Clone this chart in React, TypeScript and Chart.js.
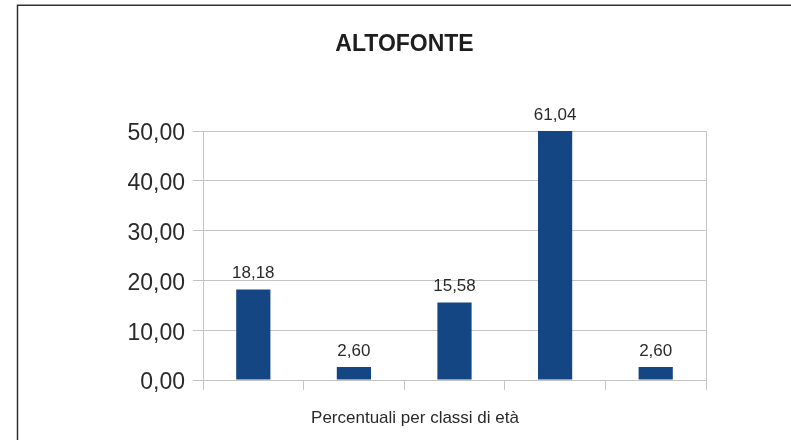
import React, { useEffect, useRef } from "react";
import { Chart, registerables } from "chart.js";

Chart.register(...registerables);

const chartTitle = "ALTOFONTE";
const xAxisTitle = "Percentuali per classi di età";
const categories = ["Classe 1", "Classe 2", "Classe 3", "Classe 4", "Classe 5"];
const percentuali = [18.18, 2.6, 15.58, 61.04, 2.6];
const yMin = 0;
const yMax = 50;
const yStep = 10;

const FONT = "'Liberation Sans', Arial, sans-serif";
const BAR_COLOR = "#134683";
const GRID_COLOR = "#c4c4c4";
const TEXT_COLOR = "#2a2a2a";

const fmt = (v: number) => v.toFixed(2).replace(".", ",");

const framePlugin = {
  id: "frame",
  beforeDraw(chart: any) {
    const ctx = chart.ctx;
    ctx.save();
    ctx.fillStyle = "#ffffff";
    ctx.fillRect(0, 0, chart.width, chart.height);
    ctx.strokeStyle = "#303030";
    ctx.lineWidth = 1.5;
    ctx.beginPath();
    ctx.moveTo(17.5, chart.height + 5);
    ctx.lineTo(17.5, 5.25);
    ctx.lineTo(chart.width + 5, 5.25);
    ctx.stroke();
    ctx.restore();
  },
};

const valueLabelPlugin = {
  id: "valueLabels",
  afterDatasetsDraw(chart: any) {
    const ctx = chart.ctx;
    const area = chart.chartArea;
    const meta = chart.getDatasetMeta(0);
    const data = chart.data.datasets[0].data as number[];
    ctx.save();
    ctx.font = `17px ${FONT}`;
    ctx.fillStyle = TEXT_COLOR;
    ctx.textAlign = "center";
    ctx.textBaseline = "alphabetic";
    meta.data.forEach((el: any, i: number) => {
      const top = Math.max(el.y, area.top);
      ctx.fillText(fmt(data[i]), el.x, top - 11.5);
    });
    ctx.restore();
  },
};

const axisTitlePlugin = {
  id: "xAxisTitle",
  afterDraw(chart: any) {
    const ctx = chart.ctx;
    const area = chart.chartArea;
    ctx.save();
    ctx.font = `17px ${FONT}`;
    ctx.fillStyle = TEXT_COLOR;
    ctx.textAlign = "center";
    ctx.textBaseline = "middle";
    ctx.fillText(xAxisTitle, area.left + (area.right - area.left) * 0.4215, area.bottom + 38);
    ctx.restore();
  },
};

export default function App() {
  const ref = useRef<HTMLCanvasElement | null>(null);

  useEffect(() => {
    if (!ref.current) return;
    const chart = new Chart(ref.current, {
      type: "bar",
      data: {
        labels: categories,
        datasets: [
          {
            data: percentuali,
            backgroundColor: BAR_COLOR,
            borderWidth: 0,
            barPercentage: 0.34,
            categoryPercentage: 1,
            yAxisID: "y",
          },
        ],
      },
      options: {
        animation: false,
        responsive: false,
        layout: { padding: { top: 0, left: 18, right: 0, bottom: 50 } },
        plugins: {
          legend: { display: false },
          tooltip: { enabled: false },
          title: {
            display: true,
            text: chartTitle,
            color: "#1e1e1e",
            font: { family: FONT, size: 23, weight: "bold", lineHeight: 1.2 },
            padding: { top: 31, bottom: 72.4 },
          },
        },
        scales: {
          x: {
            offset: true,
            grid: {
              offset: true,
              display: true,
              drawOnChartArea: true,
              drawTicks: true,
              tickLength: 10,
              color: (c: any) =>
                c.index === 0 || c.index === undefined ? GRID_COLOR : "rgba(0,0,0,0)",
              tickColor: GRID_COLOR,
              lineWidth: 1,
            },
            border: { display: false },
            ticks: { display: false },
          },
          y: {
            min: yMin,
            max: yMax,
            afterFit(scale: any) {
              scale.width = 185;
            },
            ticks: {
              stepSize: yStep,
              padding: 8,
              labelOffset: 3,
              color: TEXT_COLOR,
              font: { family: FONT, size: 23 },
              callback: (v: any) => fmt(Number(v)),
            },
            grid: {
              color: GRID_COLOR,
              tickLength: 10,
              tickColor: GRID_COLOR,
              lineWidth: 1,
            },
            border: { display: true, color: GRID_COLOR, width: 1 },
          },
          yRight: {
            position: "right",
            display: true,
            afterFit(scale: any) {
              scale.width = 85;
            },
            grid: { display: false, drawOnChartArea: false },
            border: { display: false },
            ticks: { display: false },
          },
        },
      },
      plugins: [framePlugin, valueLabelPlugin, axisTitlePlugin],
    });
    return () => chart.destroy();
  }, []);

  return (
    <div style={{ position: "absolute", left: 0, top: 0, width: 791, height: 440 }}>
      <canvas ref={ref} width={791} height={440} style={{ width: 791, height: 440 }} />
    </div>
  );
}
